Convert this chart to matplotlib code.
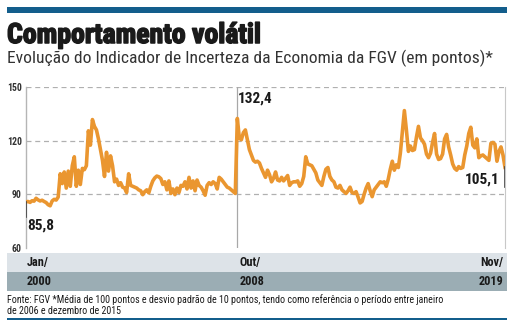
import matplotlib
matplotlib.use("Agg")
import matplotlib.pyplot as plt
from matplotlib import font_manager
from matplotlib import patheffects
from matplotlib.patches import Rectangle

# IIE-Br mensal, jan/2000 a nov/2019
valores = [
    85.8, 86.0, 85.5, 86.4, 86.2, 87.8, 86.9, 86.3, 86.7, 86.0, 85.4, 84.2,
    83.6, 86.3, 87.2, 86.8, 88.5, 101.5, 96.0, 102.5, 93.5, 103.0, 94.5, 106.0,
    111.0, 94.5, 103.5, 95.5, 104.5, 103.8, 106.0, 125.5, 117.5, 131.8, 128.0, 126.0,
    121.0, 115.0, 109.0, 100.0, 113.5, 103.0, 111.5, 106.0, 97.0, 98.5, 95.0, 96.5,
    94.0, 93.5, 91.0, 101.5, 95.0, 94.5, 94.0, 93.5, 92.5, 92.0, 89.8, 91.5,
    92.5, 90.8, 94.5, 97.5, 99.2, 100.2, 99.8, 98.8, 95.5, 97.0, 92.5, 97.5,
    90.5, 93.0, 89.8, 93.5, 91.0, 95.0, 94.5, 97.0, 93.0, 99.5, 93.5, 97.5,
    92.0, 98.0, 95.0, 94.0, 92.0, 89.5, 95.0, 96.5, 95.5, 97.0, 96.0, 93.0,
    99.5, 98.5, 97.0, 95.5, 94.0, 93.5, 92.5, 91.5, 90.5, 132.4, 121.5, 120.5,
    124.5, 126.0, 120.5, 115.0, 112.0, 109.0, 108.0, 108.5, 107.5, 104.5, 102.0, 99.5,
    103.5, 101.0, 97.0, 99.0, 102.5, 98.0, 97.5, 99.5, 97.5, 99.0, 100.5, 95.0,
    96.5, 97.0, 97.0, 97.5, 94.5, 96.0, 100.0, 111.0, 107.0, 106.5, 106.0, 104.0,
    102.0, 98.0, 96.5, 95.0, 100.0, 104.0, 105.0, 100.0, 98.0, 97.0, 94.0, 93.5,
    95.0, 92.5, 91.5, 90.5, 92.0, 94.0, 91.0, 90.5, 91.5, 88.5, 85.2, 86.0,
    90.0, 93.5, 96.0, 92.0, 88.7, 92.5, 94.0, 95.5, 97.0, 96.5, 97.0, 94.5,
    98.5, 104.0, 108.5, 103.5, 106.5, 105.0, 113.0, 125.0, 136.8, 126.0, 114.0, 117.0,
    114.5, 115.0, 122.0, 128.0, 121.5, 120.0, 118.0, 112.5, 110.5, 113.0, 119.0, 124.0,
    112.5, 109.5, 110.0, 112.5, 121.0, 123.5, 116.5, 112.0, 107.0, 104.5, 103.5, 105.5,
    104.5, 105.0, 112.0, 117.0, 124.0, 127.5, 117.5, 116.0, 121.0, 110.5, 111.5, 112.0,
    111.0, 110.0, 109.0, 118.5, 119.0, 118.0, 108.5, 114.0, 116.5, 112.0, 105.1,
]
meses = list(range(len(valores)))

y_ticks = [60, 90, 120, 150]
marcos_mes = ["Jan/", "Out/", "Nov/"]
marcos_ano = ["2000", "2008", "2019"]
marcos_idx = [0, 105, len(valores) - 1]

titulo = "Comportamento volátil"
subtitulo = "Evolução do Indicador de Incerteza da Economia da FGV (em pontos)*"
nota = ("Fonte: FGV *Média de 100 pontos e desvio padrão de 10 pontos, tendo como referência o período entre janeiro\n"
        "de 2006 e dezembro de 2015")

nomes = {f.name for f in font_manager.fontManager.ttflist}


def escolhe(*familias):
    for f in familias:
        if f in nomes:
            return f
    return "DejaVu Sans"


estreita = escolhe("Liberation Sans Narrow", "Roboto Condensed", "Open Sans Condensed", "Roboto")

W, H = 514, 327
fig = plt.figure(figsize=(W / 100, H / 100), dpi=100)
fig.patch.set_facecolor("white")


def fx(x):
    return x / W


def fy(y):
    return 1 - y / H


azul = "#135e8c"
laranja = "#ea9630"
escuro = "#1a1a1a"

# faixas azuis de topo e rodape
fig.add_artist(Rectangle((fx(7), fy(12.5)), fx(507) - fx(7), 5.5 / H, color=azul, lw=0))
fig.add_artist(Rectangle((fx(7), fy(320)), fx(507) - fx(7), 2.5 / H, color=azul, lw=0))

fig.text(fx(7), fy(43), titulo, fontsize=20, fontweight="bold", family=estreita, color=escuro,
         path_effects=[patheffects.withStroke(linewidth=1.1, foreground=escuro)])
fig.text(fx(7), fy(63), subtitulo, fontsize=12.6, family=estreita, color="#333333")

ax = fig.add_axes([fx(26), fy(248), fx(505) - fx(26), (248 - 87) / H])
ax.plot(meses, valores, color=laranja, lw=2.6, solid_joinstyle="round", zorder=3)
ax.set_xlim(0, len(valores) - 1)
ax.set_ylim(60, 150)
ax.set_yticks(y_ticks)
ax.set_yticklabels([str(v) for v in y_ticks], fontsize=7, family=estreita,
                   fontweight="bold", color="#333333")
ax.tick_params(axis="y", length=0, pad=3)
ax.set_xticks([])
for v in y_ticks[1:]:
    ax.axhline(v, color="#b0b0b0", lw=0.9, ls=(0, (4, 3)), zorder=1)
for s in ["top", "bottom"]:
    ax.spines[s].set_visible(False)
ax.spines["left"].set_color("#b5b5b5")
ax.spines["right"].set_color("#c8c8c8")
ax.spines["left"].set_linewidth(1.0)
ax.spines["right"].set_linewidth(0.8)
ax.axvline(marcos_idx[1], color="#a8a8a8", lw=0.9, zorder=2)

# marcadores dos valores destacados
ax.plot([0, 0], [valores[0], 77.5], color="#444444", lw=1.2, zorder=4)
ax.plot([meses[-1], meses[-1]], [valores[-1], 94], color="#444444", lw=1.2, zorder=4)
lbl = dict(fontsize=11, fontweight="bold", family=estreita, color=escuro)
ax.text(0.5, 72.5, f"{valores[0]:.1f}".replace(".", ","), ha="left", va="center", **lbl)
ax.text(marcos_idx[1] + 0.3, 143.5, f"{valores[marcos_idx[1]]:.1f}".replace(".", ","),
        ha="left", va="center", **lbl)
ax.text(meses[-1] - 2.5, 98.5, f"{valores[-1]:.1f}".replace(".", ","), ha="right", va="center", **lbl)

# faixas das datas
fig.add_artist(Rectangle((fx(7), fy(272)), fx(507) - fx(7), 19 / H, color="#dde3e8", lw=0))
fig.add_artist(Rectangle((fx(7), fy(291)), fx(507) - fx(7), 19 / H, color="#9badb4", lw=0))
xs = [fx(27), fx(240), fx(503)]
has = ["left", "left", "right"]
for x, ha, m, a in zip(xs, has, marcos_mes, marcos_ano):
    fig.text(x, fy(262.5), m, ha=ha, va="center", fontsize=8.8, fontweight="bold",
             family=estreita, color=escuro)
    fig.text(x, fy(281.5), a, ha=ha, va="center", fontsize=8.8, fontweight="bold",
             family=estreita, color=escuro)

fig.text(fx(7), fy(294), nota, ha="left", va="top", fontsize=7.2, family=estreita,
         color=escuro, linespacing=1.15)

fig.savefig("out.png", dpi=100, facecolor="white")
